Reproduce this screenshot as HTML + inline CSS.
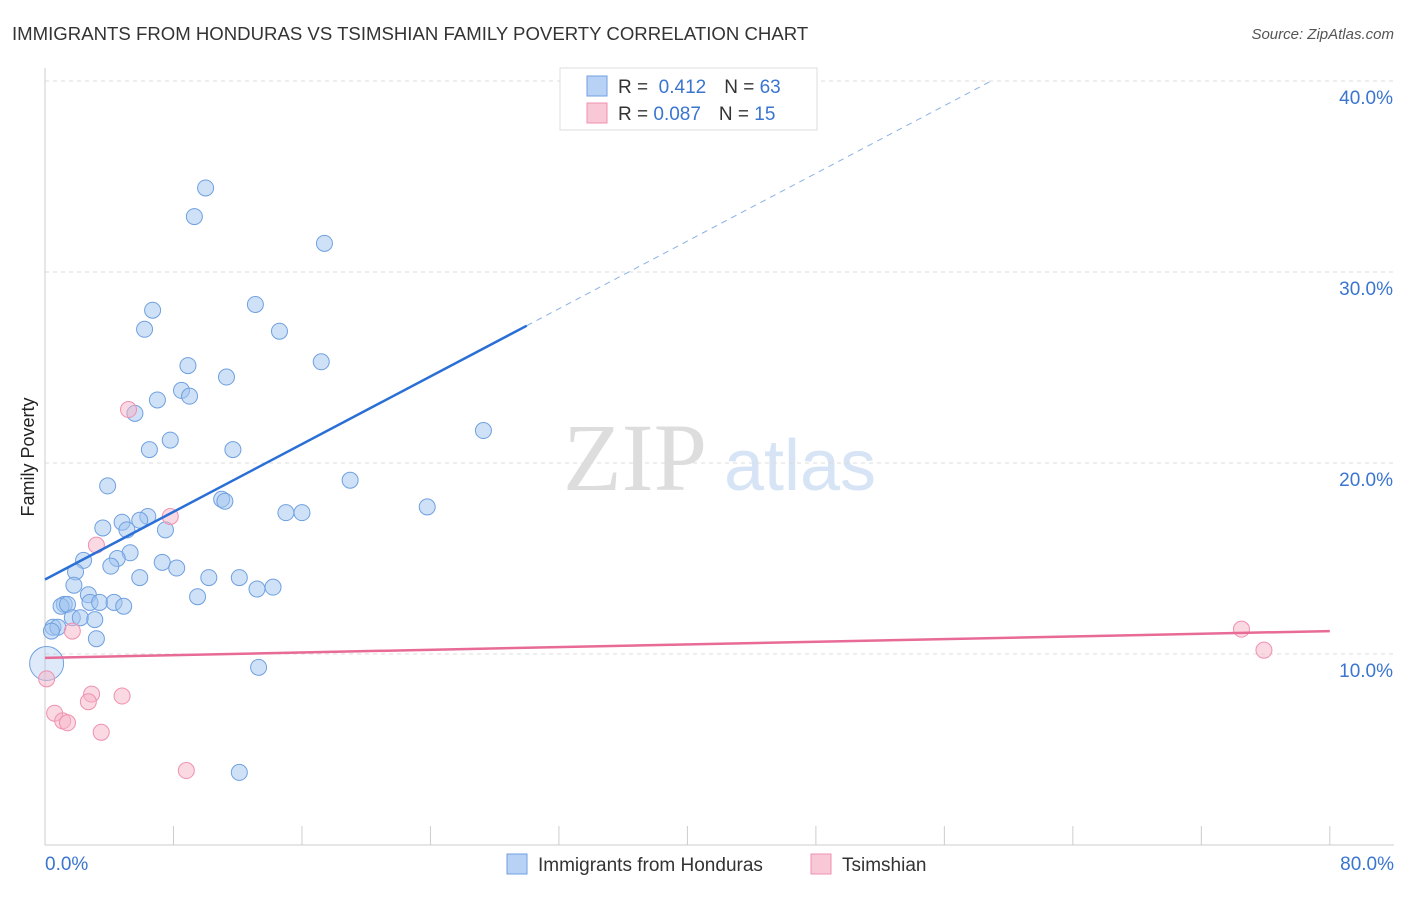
<!DOCTYPE html>
<html><head><meta charset="utf-8"><style>
body{margin:0;background:#fff;font-family:"Liberation Sans",sans-serif}
</style></head><body>
<svg id="c" width="1406" height="892" xmlns="http://www.w3.org/2000/svg" style="font-family:'Liberation Sans',sans-serif">
<text x="12" y="40" font-size="18.6" fill="#333">IMMIGRANTS FROM HONDURAS VS TSIMSHIAN FAMILY POVERTY CORRELATION CHART</text>
<text x="1394" y="39" font-size="15" fill="#555" text-anchor="end" font-style="italic">Source: ZipAtlas.com</text>
<text x="34" y="457" font-size="18" fill="#222" text-anchor="middle" transform="rotate(-90 34 457)">Family Poverty</text>
<g><text x="635" y="490" font-size="96" fill="#ddd" text-anchor="middle" font-family="Liberation Serif">ZIP</text><text x="800" y="490" font-size="72" fill="#d6e4f5" text-anchor="middle">atlas</text></g>
<g id="grid"></g><g id="marks"></g>
<g>
<rect x="560" y="68" width="257" height="62" fill="#fff" stroke="#ddd"/>
<rect x="587" y="76" width="20" height="20" fill="#b8d2f5" stroke="#6fa0e0"/>
<rect x="587" y="103" width="20" height="20" fill="#f9c8d6" stroke="#f090b0"/>
<text x="618" y="93" font-size="19" fill="#333">R = <tspan fill="#3a75d0">&#160;0.412</tspan><tspan dx="18">N = </tspan><tspan fill="#3a75d0"> 63</tspan></text>
<text x="618" y="120" font-size="19" fill="#333">R = <tspan fill="#3a75d0">0.087</tspan><tspan dx="18">N = </tspan><tspan fill="#3a75d0"> 15</tspan></text>
</g>
<g>
<rect x="507" y="854" width="20" height="20" fill="#b8d2f5" stroke="#6fa0e0"/>
<text x="538" y="871" font-size="19" fill="#333">Immigrants from Honduras</text>
<rect x="811" y="854" width="20" height="20" fill="#f9c8d6" stroke="#f090b0"/>
<text x="842" y="871" font-size="19" fill="#333">Tsimshian</text>
</g>
</svg>
<script>
const yTicks=[10,20,30,40];
const yTickLabels=["10.0%","20.0%","30.0%","40.0%"];
const xTicks=[0,8,16,24,32,40,48,56,64,72,80];
const blueX=[10.0,9.3,17.4,6.7,13.1,6.2,14.6,8.9,17.2,11.3,8.5,9.0,7.0,5.6,7.8,27.3,6.5,11.7,19.0,3.9,11.0,11.2,23.8,15.0,16.0,6.4,5.9,4.8,3.6,5.1,7.5,5.3,2.4,4.5,7.3,4.1,1.9,8.2,5.9,10.2,12.1,1.8,13.2,14.2,2.7,9.5,1.2,1.0,2.8,3.4,4.3,1.4,4.9,1.7,2.2,3.1,0.5,0.8,0.4,3.2,13.3,12.1,0.1];
const blueY=[34.4,32.9,31.5,28.0,28.3,27.0,26.9,25.1,25.3,24.5,23.8,23.5,23.3,22.6,21.2,21.7,20.7,20.7,19.1,18.8,18.1,18.0,17.7,17.4,17.4,17.2,17.0,16.9,16.6,16.5,16.5,15.3,14.9,15.0,14.8,14.6,14.3,14.5,14.0,14.0,14.0,13.6,13.4,13.5,13.1,13.0,12.6,12.5,12.7,12.7,12.7,12.6,12.5,11.9,11.9,11.8,11.4,11.4,11.2,10.8,9.3,3.8,9.5];
const pinkX=[5.2,7.8,3.2,1.7,0.1,2.9,2.7,4.8,0.6,1.1,1.4,3.5,8.8,74.5,75.9];
const pinkY=[22.8,17.2,15.7,11.2,8.7,7.9,7.5,7.8,6.9,6.5,6.4,5.9,3.9,11.3,10.2];
const blueLine=[13.9,0.443];
const pinkLine=[9.8,0.0175];
const X=v=>45+v*16.06, Y=v=>845-v*19.1;
const NS="http://www.w3.org/2000/svg";
function mk(p,t,a){const e=document.createElementNS(NS,t);for(const k in a)e.setAttribute(k,a[k]);p.appendChild(e);return e;}
const g=document.getElementById('grid'), m=document.getElementById('marks');
yTicks.forEach((t,i)=>{
 const l=mk(g,'line',{x1:45,x2:1394,y1:Y(t),y2:Y(t),stroke:'#ddd','stroke-dasharray':'4,4'});
 
 
 const tx=mk(g,'text',{x:1393,y:Y(t)+23,'font-size':19,fill:'#3a75d0','text-anchor':'end'});tx.textContent=yTickLabels[i];
 
 
});
mk(g,'line',{x1:45,x2:45,y1:68,y2:845,stroke:'#ccc'});
mk(g,'line',{x1:45,x2:1394,y1:845,y2:845,stroke:'#ccc'});
xTicks.forEach(t=>{const l=mk(g,'line',{x1:X(t),x2:X(t),y1:826,y2:845,stroke:'#ccc'});
 
 });
let t0=mk(g,'text',{x:45,y:870,'font-size':19,fill:'#3a75d0'});t0.textContent='0.0%';
let t1=mk(g,'text',{x:1394,y:870,'font-size':19,fill:'#3a75d0','text-anchor':'end'});t1.textContent='80.0%';
blueX.forEach((v,i)=>{const last=i===blueX.length-1;
 const c=mk(m,'circle',{cx:X(v),cy:Y(blueY[i]),r:last?17:8,fill:last?'rgba(160,196,240,0.35)':'rgba(160,196,240,0.5)',stroke:'#6fa0e0','stroke-width':1});
 
 });
pinkX.forEach((v,i)=>{const c=mk(m,'circle',{cx:X(v),cy:Y(pinkY[i]),r:8,fill:'rgba(245,180,200,0.5)',stroke:'#f090b0','stroke-width':1});
 
 });
const bl=mk(m,'line',{x1:X(0),y1:Y(blueLine[0]),x2:X(30),y2:Y(blueLine[0]+30*blueLine[1]),stroke:'#2a6fd6','stroke-width':2.5});


const xe=(40-blueLine[0])/blueLine[1];
const bd=mk(m,'line',{x1:X(30),y1:Y(blueLine[0]+30*blueLine[1]),x2:X(xe),y2:Y(40),stroke:'#8ab0e6','stroke-width':1,'stroke-dasharray':'6,5'});


const pl=mk(m,'line',{x1:X(0),y1:Y(pinkLine[0]),x2:X(80),y2:Y(pinkLine[0]+80*pinkLine[1]),stroke:'#e86a96','stroke-width':2.5});


</script>
</body></html>
